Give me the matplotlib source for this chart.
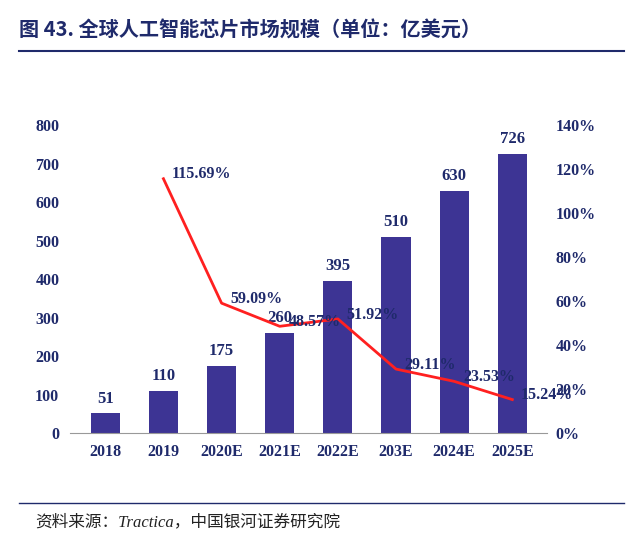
import matplotlib
matplotlib.use("Agg")
import matplotlib.pyplot as plt

years = ["2018", "2019", "2020E", "2021E", "2022E", "203E", "2024E", "2025E"]
market = [51, 110, 175, 260, 395, 510, 630, 726]
growth = [None, 115.69, 59.09, 48.57, 51.92, 29.11, 23.53, 15.24]
left_ticks = [0, 100, 200, 300, 400, 500, 600, 700, 800]
right_ticks = [0, 20, 40, 60, 80, 100, 120, 140]

serif = ["Liberation Serif", "Noto Sans CJK SC"]
cjk = ["Noto Sans CJK SC", "DejaVu Sans"]
navy = "#1F2A6B"
bar_c = "#3D3494"

fig = plt.figure(figsize=(6.4, 5.4), dpi=100)
fig.text(0.03, 0.945, "图 43. 全球人工智能芯片市场规模（单位：亿美元）", family=cjk,
         fontsize=14.5, weight="bold", color=navy, va="center")
fig.add_artist(plt.Line2D([0.03, 0.975], [0.905, 0.905], color=navy, lw=1.5))
fig.add_artist(plt.Line2D([0.03, 0.975], [0.068, 0.068], color=navy, lw=1))
fig.text(0.055, 0.032, "资料来源：Tractica，中国银河证券研究院", family=serif,
         fontsize=12, style="italic", color="#222222", va="center")

ax = fig.add_axes([0.11, 0.198, 0.745, 0.57])
x = list(range(len(years)))
ax.bar(x, market, width=0.5, color=bar_c)
for xi, v in zip(x, market):
    ax.text(xi, v + 18, str(v), ha="center", va="bottom", family=serif, fontsize=12, weight="bold", color=navy)
ax.set_ylim(0, 800)
ax.set_yticks(left_ticks)
ax.set_xlim(-0.6, len(years) - 0.4)
ax.set_xticks(x)
ax.set_xticklabels(years)
for lab in ax.get_xticklabels() + ax.get_yticklabels():
    lab.set_family(serif); lab.set_fontsize(11.5); lab.set_weight("bold"); lab.set_color(navy)
for s in ["top", "right", "left"]:
    ax.spines[s].set_visible(False)
ax.spines["bottom"].set_color("#999999")
ax.tick_params(length=0, pad=8)

ax2 = ax.twinx()
gx = [xi for xi, g in zip(x, growth) if g is not None]
gy = [g for g in growth if g is not None]
ax2.plot(gx, gy, color="#FF2020", lw=2)
for xi, g in zip(gx, gy):
    ax2.text(xi + 0.15, g + 2, f"{g:.2f}%", ha="left", va="center", family=serif,
             fontsize=11.5, weight="bold", color=navy)
ax2.set_ylim(0, 140)
ax2.set_yticks(right_ticks)
ax2.set_yticklabels([f"{t}%" for t in right_ticks])
for lab in ax2.get_yticklabels():
    lab.set_family(serif); lab.set_fontsize(11.5); lab.set_weight("bold"); lab.set_color(navy)
for s in ["top", "right", "left", "bottom"]:
    ax2.spines[s].set_visible(False)
ax2.tick_params(length=0, pad=6)

fig.savefig("out.png", dpi=100)
